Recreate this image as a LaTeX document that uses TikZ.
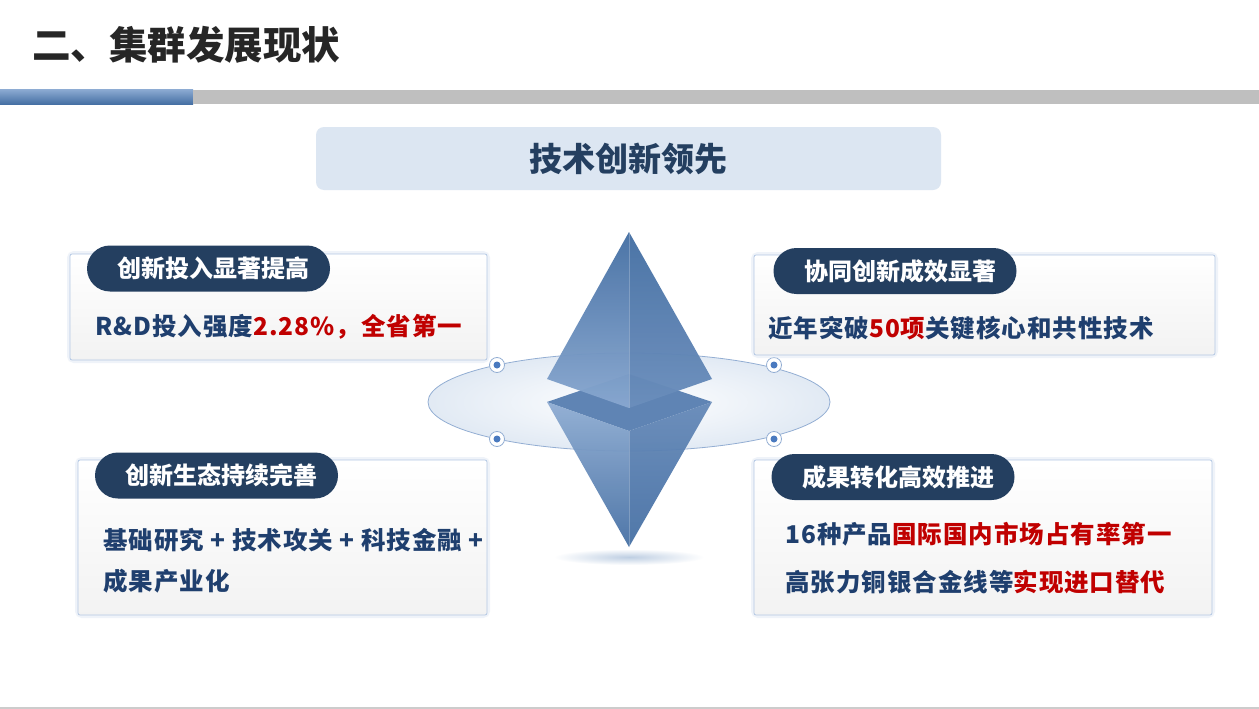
\documentclass[tikz,border=0pt]{standalone}
\usepackage{fontspec}
\setmainfont{Noto Sans CJK SC}
\usetikzlibrary{shapes,shapes.misc}
\definecolor{navy}{HTML}{243F60}
\definecolor{txtblue}{HTML}{1F3F6E}
\definecolor{hlred}{HTML}{C00000}
\definecolor{panel}{HTML}{DCE6F2}
\definecolor{rim}{HTML}{B4C8E4}
\definecolor{ringline}{HTML}{93AED3}
\definecolor{dotblue}{HTML}{4A7ABF}
\definecolor{gemdark}{HTML}{4670A4}
\definecolor{gemmid}{HTML}{5F84B4}
\definecolor{gemlight}{HTML}{89A8D0}
\newcommand{\hl}[1]{\textcolor{hlred}{#1}}

\begin{document}
\begin{tikzpicture}[x=1pt, y=-1pt,
  card/.style={draw=rim, line width=0.8pt, rounded corners=2pt, top color=white, bottom color=black!5},
  glow/.style={draw=rim!45, line width=6pt, rounded corners=4pt, opacity=0.45},
  pill/.style={rounded rectangle, fill=navy, text=white, minimum width=243pt, minimum height=46pt, inner sep=0pt, font=\fontsize{24}{24}\selectfont\bfseries, execute at begin node=\hspace{10pt}},
  body/.style={anchor=west, inner sep=0pt, text=txtblue, font=\fontsize{24.5}{24.5}\selectfont\bfseries\addfontfeature{LetterSpace=4}},
  knob/.style={circle, draw=ringline, fill=white, line width=0.8pt, minimum size=15pt, inner sep=0pt}]
   \useasboundingbox (0,0) rectangle (1259,709);
   \fill[white] (0,0) rectangle (1259,709);
   % heading and bar
   \node[anchor=west, inner sep=0pt, text=black!85, font=\fontsize{38.5}{38.5}\selectfont\bfseries] (heading) at (32,45) {二、集群发展现状};
   \shade[top color=gemlight, bottom color=gemdark] (0,90) rectangle (193,104);
   \fill[black!25] (193,90) rectangle (1259,104);
   \draw[black!20, line width=2pt] (0,708) -- (1259,708);
   % theme bar
   \fill[panel, rounded corners=8pt] (316,127) rectangle (941,190);
   \node[text=navy, font=\fontsize{33}{33}\selectfont\bfseries] (theme) at (628,159) {技术创新领先};
   % ring
   \shade[inner color=white, outer color=panel!85] (629,402) ellipse [x radius=201, y radius=49];
   \draw[ringline, line width=0.8pt] (629,402) ellipse [x radius=201, y radius=49];
   \shade[inner color=panel!80!gemdark, outer color=white] (629,557) ellipse [x radius=75, y radius=8];
   % gem, lower piece
   \fill[gemmid] (547,402) -- (629,374) -- (712,402) -- (629,431) -- cycle;
   \shade[top color=gemlight!95, bottom color=gemdark, opacity=0.95] (547,402) -- (629,431) -- (629,547) -- cycle;
   \shade[top color=gemmid!85!gemlight, bottom color=gemdark, opacity=0.95] (712,402) -- (629,431) -- (629,547) -- cycle;
   % gem, upper piece
   \shade[top color=gemdark, bottom color=gemlight, opacity=0.97] (629,232) -- (547,379) -- (629,408) -- cycle;
   \shade[top color=gemdark, bottom color=gemmid!70!gemlight, opacity=0.97] (629,232) -- (712,379) -- (629,408) -- cycle;
   \draw[white, opacity=0.25, line width=0.6pt] (629,232) -- (629,408) (629,431) -- (629,547);
   % knobs on the ring
   \node[knob] (k1) at (497,365) {};
   \node[knob] (k2) at (774,365) {};
   \node[knob] (k3) at (497,439) {};
   \node[knob] (k4) at (774,439) {};
   \foreach \k in {k1,k2,k3,k4}
     \fill[dotblue] (\k) circle (3.5);
   % cards
   \draw[glow] (70,254) rectangle (487,360);
   \draw[card] (70,254) rectangle (487,360);
   \draw[glow] (754,255) rectangle (1215,355);
   \draw[card] (754,255) rectangle (1215,355);
   \draw[glow] (78,460) rectangle (487,615);
   \draw[card] (78,460) rectangle (487,615);
   \draw[glow] (754,460) rectangle (1212,615);
   \draw[card] (754,460) rectangle (1212,615);
   % card heads
   \node[pill] (invest) at (208.5,268.5) {创新投入显著提高};
   \node[pill] (collab) at (895,271) {协同创新成效显著};
   \node[pill] (ecology) at (216.5,475.5) {创新生态持续完善};
   \node[pill] (transfer) at (893,477) {成果转化高效推进};
   % card texts
   \node[body] (investtxt) at (95,327) {R\&D投入强度\hl{2.28\%，全省第一}};
   \node[body] (collabtxt) at (768,328) {近年突破\hl{50项}关键核心和共性技术};
   \node[body] (ecotxt1) at (103,540) {基础研究 + 技术攻关 + 科技金融 +};
   \node[body] (ecotxt2) at (103,581) {成果产业化};
   \node[body] (transtxt1) at (785,534) {16种产品\hl{国际国内市场占有率第一}};
   \node[body] (transtxt2) at (785,582) {高张力铜银合金线等\hl{实现进口替代}};
\end{tikzpicture}
\end{document}
